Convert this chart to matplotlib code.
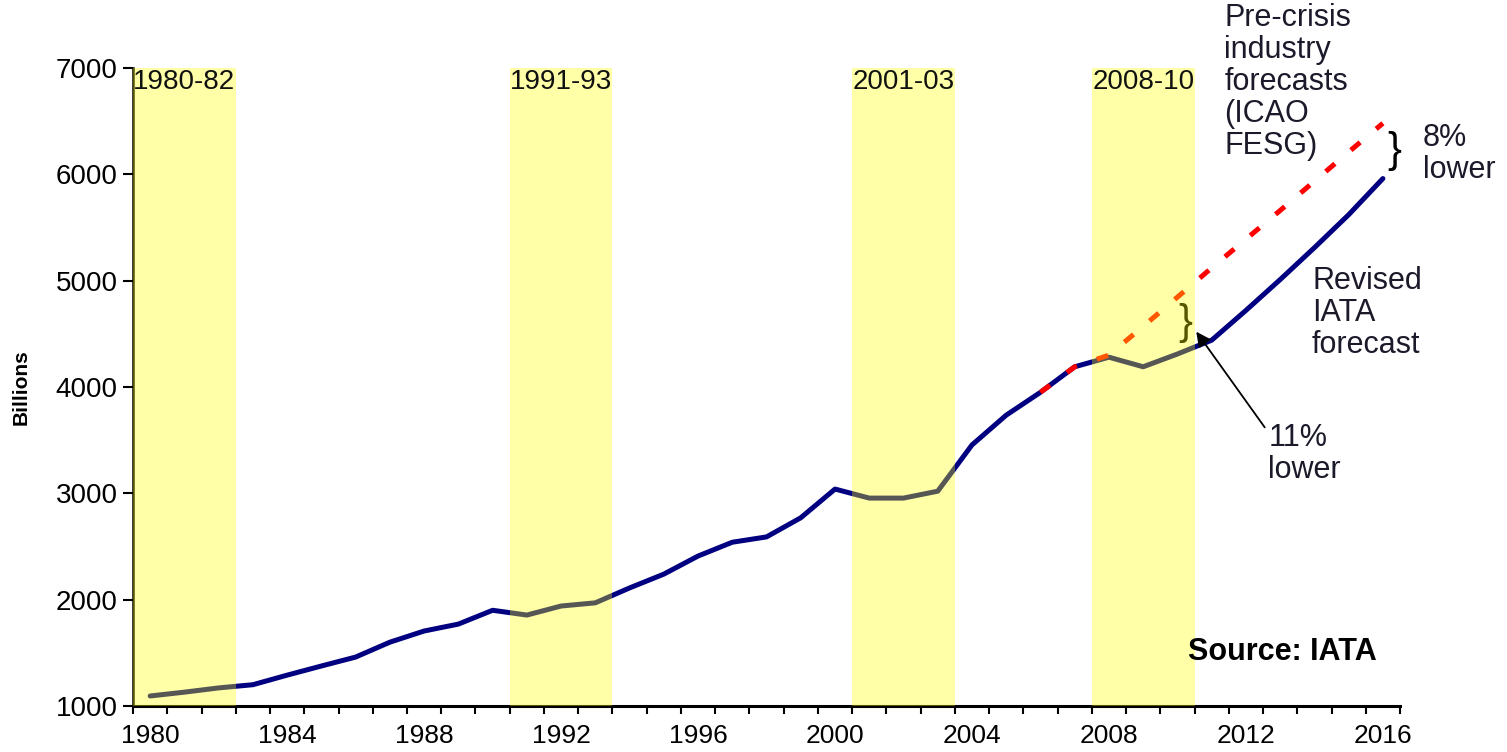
import matplotlib
matplotlib.use('Agg')
import matplotlib.pyplot as plt
import numpy as np

plt.rcParams['font.family'] = ['Liberation Sans', 'DejaVu Sans']

# actual traffic + revised IATA forecast (billions)
years = list(range(1980, 2017))
rpk = [1094, 1130, 1170, 1200, 1290, 1376, 1460, 1600, 1705, 1770,
       1900, 1855, 1940, 1970, 2110, 2240, 2410, 2540, 2590, 2770,
       3040, 2955, 2955, 3020, 3455, 3735, 3950, 4190, 4280, 4190,
       4310, 4440, 4720, 5010, 5310, 5620, 5960]

# pre-crisis industry forecast (ICAO FESG)
pre_years = list(range(2006, 2017))
pre_rpk = [3950, 4190, 4300, 4570, 4845, 5120, 5390, 5660, 5935, 6210, 6480]

# recession periods
bands = [(1980, 1982, '1980-82'), (1991, 1993, '1991-93'),
         (2001, 2003, '2001-03'), (2008, 2010, '2008-10')]

fig = plt.figure(figsize=(15.07, 7.52), dpi=100)
ax = fig.add_axes([0.0883, 0.0612, 0.8407, 0.8484])

ax.plot(years, rpk, color='#000080', lw=3.6, solid_joinstyle='round',
        solid_capstyle='round', zorder=2)
ax.plot(pre_years, pre_rpk, color='#FF0000', lw=3.6, dashes=(2.4, 4.2),
        dash_capstyle='butt', zorder=2.5)

for y0, y1, lab in bands:
    ax.axvspan(y0 - 0.5, y1 + 0.5, color='#FFFF00', alpha=0.34, lw=0, zorder=3)
    ax.text((y0 + y1) / 2, 6868, lab, ha='center', va='center', fontsize=20,
            color='#111111', zorder=5)

ax.set_xlim(1979.5, 2016.5)
ax.set_ylim(1000, 7000)
ax.set_yticks(range(1000, 8000, 1000))
ax.set_xticks(range(1980, 2017, 4))
ax.set_xticks(np.arange(1979.5, 2017, 1), minor=True)
ax.tick_params(axis='x', which='major', length=0, pad=13, labelsize=19)
ax.tick_params(axis='x', which='minor', length=6, width=1.5, direction='out')
ax.tick_params(axis='y', length=7, width=1.5, pad=4, labelsize=20)
for s in ['top', 'right']:
    ax.spines[s].set_visible(False)
ax.spines['left'].set_linewidth(1.8)
ax.spines['bottom'].set_linewidth(2.2)
ax.set_ylabel('Billions', fontsize=15, fontweight='bold', labelpad=18)

# annotations
ax.text(2011.37, 6868, 'Pre-crisis\nindustry\nforecasts\n(ICAO\nFESG)',
        ha='left', va='center', fontsize=22, linespacing=1.08, clip_on=False,
        color='#1a1a2a', zorder=6)
ax.text(2016.33, 6215, '}', ha='center', va='center', fontsize=30, clip_on=False)
ax.text(2017.17, 6191, '8%\nlower', ha='left', va='center', fontsize=22,
        linespacing=1.08, clip_on=False, color='#1a1a2a')
ax.text(2013.93, 4696, 'Revised\nIATA\nforecast', ha='left', va='center',
        fontsize=22, linespacing=1.08, color='#1a1a2a')
ax.text(2010.22, 4600, '}', ha='center', va='center', fontsize=30, zorder=2.8)
ax.annotate('', xy=(2010.55, 4520), xytext=(2012.55, 3620),
            arrowprops=dict(arrowstyle='-|>', color='black', lw=1.3,
                            mutation_scale=22, shrinkA=0, shrinkB=0), zorder=4)
ax.text(2012.65, 3370, '11%\nlower', ha='left', va='center', fontsize=22,
        linespacing=1.08, color='#1a1a2a')
ax.text(2010.32, 1508, 'Source: IATA', ha='left', va='center', fontsize=22,
        fontweight='bold')

fig.savefig('out.png', dpi=100)
